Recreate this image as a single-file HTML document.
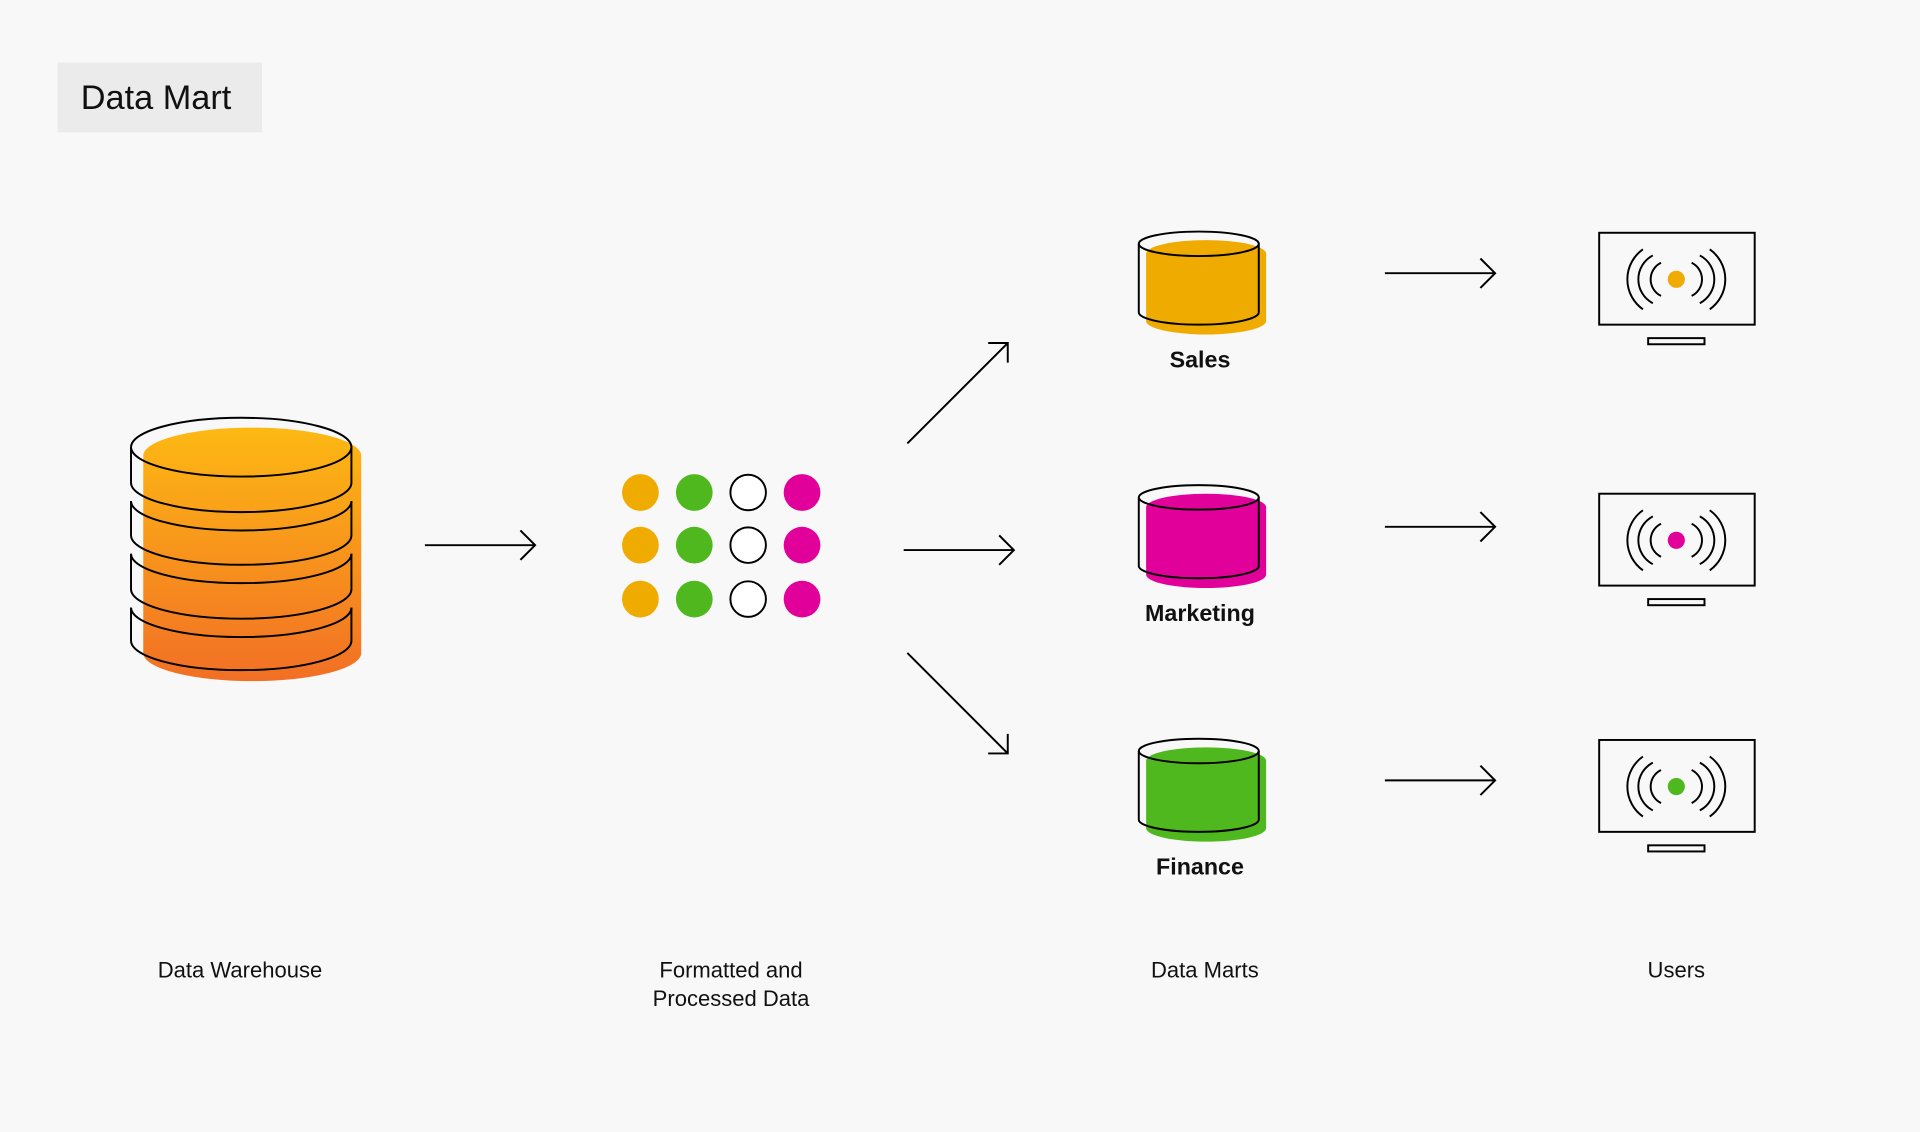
<!DOCTYPE html>
<html><head><meta charset="utf-8"><style>
html,body{margin:0;padding:0;background:#f8f8f8;}
svg{display:block;}
text{font-family:"Liberation Sans",sans-serif;fill:#111;}
</style></head><body>
<svg width="1920" height="1132" viewBox="0 0 1568 924" preserveAspectRatio="none" xmlns="http://www.w3.org/2000/svg">
<defs>
<linearGradient id="og" x1="0" y1="0" x2="0" y2="1">
<stop offset="0" stop-color="#fdb913"/><stop offset="1" stop-color="#f26f25"/>
</linearGradient>
</defs>
<rect width="1568" height="924" fill="#f8f8f8"/>
<rect x="47" y="51" width="167" height="57" fill="#ebebeb"/>
<text x="66" y="89" font-size="28">Data Mart</text>

<path d="M117 372 A89 23 0 0 1 295 372 L295 533 A89 23 0 0 1 117 533 Z" fill="url(#og)"/>
<g fill="none" stroke="#000" stroke-width="1.6">
<ellipse cx="197" cy="365" rx="90" ry="24"/>
<path d="M107 365 V394 A90 24 0 0 0 287 394 V365"/>
<path d="M107 409 V437 A90 24 0 0 0 287 437 V409"/>
<path d="M107 409 A90 24 0 0 0 287 409"/>
<path d="M107 452 V481 A90 24 0 0 0 287 481 V452"/>
<path d="M107 452 A90 24 0 0 0 287 452"/>
<path d="M107 496 V523 A90 24 0 0 0 287 523 V496"/>
<path d="M107 496 A90 24 0 0 0 287 496"/>
</g>

<g fill="none" stroke="#000" stroke-width="1.6">
<path d="M347 445 H437 M425 433 L437 445 L425 457"/>
<path d="M741 362 L823 280 M807 280 H823 V296"/>
<path d="M738 449 H828 M816 437 L828 449 L816 461"/>
<path d="M741 533 L823 615 M807 615 H823 V599"/>
<path d="M1131 223 H1221 M1209 211 L1221 223 L1209 235"/>
<path d="M1131 430 H1221 M1209 418 L1221 430 L1209 442"/>
<path d="M1131 637 H1221 M1209 625 L1221 637 L1209 649"/>
</g>

<g>
<circle cx="523" cy="402" r="15" fill="#f0ab00"/><circle cx="523" cy="445" r="15" fill="#f0ab00"/><circle cx="523" cy="489" r="15" fill="#f0ab00"/>
<circle cx="567" cy="402" r="15" fill="#4fb81f"/><circle cx="567" cy="445" r="15" fill="#4fb81f"/><circle cx="567" cy="489" r="15" fill="#4fb81f"/>
<circle cx="611" cy="402" r="14.5" fill="#fff" stroke="#000" stroke-width="1.6"/><circle cx="611" cy="445" r="14.5" fill="#fff" stroke="#000" stroke-width="1.6"/><circle cx="611" cy="489" r="14.5" fill="#fff" stroke="#000" stroke-width="1.6"/>
<circle cx="655" cy="402" r="15" fill="#e2009a"/><circle cx="655" cy="445" r="15" fill="#e2009a"/><circle cx="655" cy="489" r="15" fill="#e2009a"/>
</g>

<g>
<path d="M936 207 A49 11 0 0 1 1034 207 L1034 262 A49 11 0 0 1 936 262 Z" fill="#f0ab00"/>
<g fill="none" stroke="#000" stroke-width="1.6">
<ellipse cx="979" cy="199" rx="49" ry="10"/>
<path d="M930 199 V255 A49 10 0 0 0 1028 255 V199"/>
</g>
</g>
<g>
<path d="M936 414 A49 11 0 0 1 1034 414 L1034 469 A49 11 0 0 1 936 469 Z" fill="#e2009a"/>
<g fill="none" stroke="#000" stroke-width="1.6">
<ellipse cx="979" cy="406" rx="49" ry="10"/>
<path d="M930 406 V462 A49 10 0 0 0 1028 462 V406"/>
</g>
</g>
<g>
<path d="M936 621 A49 11 0 0 1 1034 621 L1034 676 A49 11 0 0 1 936 676 Z" fill="#4fb81f"/>
<g fill="none" stroke="#000" stroke-width="1.6">
<ellipse cx="979" cy="613" rx="49" ry="10"/>
<path d="M930 613 V669 A49 10 0 0 0 1028 669 V613"/>
</g>
</g>
<text x="980" y="300" font-size="19" font-weight="bold" text-anchor="middle">Sales</text>
<text x="980" y="507" font-size="19" font-weight="bold" text-anchor="middle">Marketing</text>
<text x="980" y="714" font-size="19" font-weight="bold" text-anchor="middle">Finance</text>

<g id="m" fill="none" stroke="#000" stroke-width="1.6">
<rect x="1306" y="190" width="127" height="75"/>
<rect x="1346" y="276" width="46" height="5"/>
<path d="M1341.7 203.5 A30 30 0 0 0 1341.7 252.5"/>
<path d="M1349.8 208.5 A22 22 0 0 0 1349.8 247.5"/>
<path d="M1356.5 214.5 A15 15 0 0 0 1356.5 241.5"/>
<path d="M1396.3 203.5 A30 30 0 0 1 1396.3 252.5"/>
<path d="M1388.2 208.5 A22 22 0 0 1 1388.2 247.5"/>
<path d="M1381.5 214.5 A15 15 0 0 1 1381.5 241.5"/>
</g>
<circle cx="1369" cy="228" r="7" fill="#f0ab00"/>
<use href="#m" transform="translate(0 213)"/>
<circle cx="1369" cy="441" r="7" fill="#e2009a"/>
<use href="#m" transform="translate(0 414)"/>
<circle cx="1369" cy="642" r="7" fill="#4fb81f"/>

<g font-size="18" text-anchor="middle">
<text x="196" y="798">Data Warehouse</text>
<text x="597" y="798">Formatted and</text>
<text x="597" y="821">Processed Data</text>
<text x="984" y="798">Data Marts</text>
<text x="1369" y="798">Users</text>
</g>
</svg>
</body></html>
